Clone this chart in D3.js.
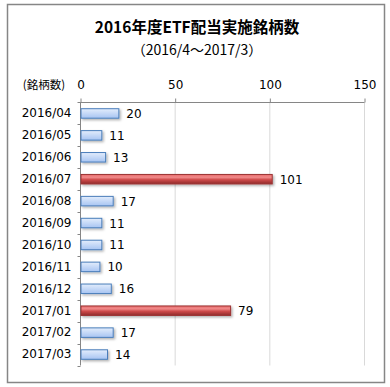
<!DOCTYPE html>
<html>
<head>
<meta charset="utf-8">
<script src="https://cdn.jsdelivr.net/npm/d3@7"></script>
<style>
  body { margin: 0; background: #fff; }
  svg { display: block; }
</style>
</head>
<body>
<div id="chart"></div>
<script>
// data
const months = ["2016/04", "2016/05", "2016/06", "2016/07", "2016/08", "2016/09",
  "2016/10", "2016/11", "2016/12", "2017/01", "2017/02", "2017/03"];
const counts = [20, 11, 13, 101, 17, 11, 11, 10, 16, 79, 17, 14];
const highlight = ["2016/07", "2017/01"];
const xTicks = [0, 50, 100, 150];

const chartW = 390, chartH = 387;
const plotLeft = 80.5, plotRight = 364.5, plotTop = 102.5, plotBottom = 365.5;
const fontJP = "'Noto Sans CJK JP', sans-serif";
const fontNum = "Verdana, 'DejaVu Sans', sans-serif";

const svg = d3.select("#chart").append("svg")
  .attr("width", chartW)
  .attr("height", chartH);

const defs = svg.append("defs");

let blueGrad = defs.append("linearGradient").attr("id", "blueGrad")
  .attr("x1", 0).attr("y1", 0).attr("x2", 0).attr("y2", 1);
blueGrad.append("stop").attr("offset", "0%").attr("stop-color", "#e3edfc");
blueGrad.append("stop").attr("offset", "100%").attr("stop-color", "#a7c4f2");

let redGrad = defs.append("linearGradient").attr("id", "redGrad")
  .attr("x1", 0).attr("y1", 0).attr("x2", 0).attr("y2", 1);
redGrad.append("stop").attr("offset", "0%").attr("stop-color", "#e86a6a");
redGrad.append("stop").attr("offset", "30%").attr("stop-color", "#f08a8a");
redGrad.append("stop").attr("offset", "55%").attr("stop-color", "#cf4a4a");
redGrad.append("stop").attr("offset", "100%").attr("stop-color", "#8f2a2a");

let shadow = defs.append("filter").attr("id", "shadow")
  .attr("x", "-10%").attr("y", "-40%").attr("width", "130%").attr("height", "200%");
shadow.append("feDropShadow")
  .attr("dx", 1.5).attr("dy", 1.5).attr("stdDeviation", 1.2)
  .attr("flood-color", "#000").attr("flood-opacity", 0.3);

// outer frame
svg.append("rect")
  .attr("x", 7.5).attr("y", 4.5)
  .attr("width", 377).attr("height", 378)
  .attr("fill", "#fff")
  .attr("stroke", "#868686")
  .attr("stroke-width", 1.5);

svg.append("text")
  .attr("x", 197).attr("y", 33)
  .attr("text-anchor", "middle")
  .style("font-family", fontJP)
  .style("font-weight", "bold")
  .style("font-size", "15.5px")
  .text("2016年度ETF配当実施銘柄数");

svg.append("text")
  .attr("x", 197).attr("y", 55)
  .attr("text-anchor", "middle")
  .style("font-family", fontJP)
  .style("font-size", "14px")
  .text("（2016/4～2017/3）");

const x = d3.scaleLinear().domain([0, 150]).range([plotLeft, plotRight]);
const y = d3.scaleBand().domain(months).range([plotTop, plotBottom]);

// gridlines
svg.selectAll("line.grid")
  .data(xTicks.slice(1))
  .enter().append("line")
  .attr("class", "grid")
  .attr("x1", d => x(d)).attr("x2", d => x(d))
  .attr("y1", plotTop).attr("y2", plotBottom)
  .attr("stroke", "#d9d9d9")
  .attr("stroke-width", 1);

// top axis
const xAxis = d3.axisTop(x).tickValues(xTicks).tickSize(4).tickPadding(9.5);
const gx = svg.append("g")
  .attr("transform", "translate(0," + plotTop + ")")
  .call(xAxis);
gx.select(".domain").attr("d", "M" + (plotLeft - 3) + ",0H" + plotRight);
gx.selectAll("path, line").attr("stroke", "#868686");
gx.selectAll("text")
  .style("font-family", fontNum)
  .style("font-size", "12px")
  .attr("fill", "#000");

svg.append("text")
  .attr("x", 44).attr("y", 88.5)
  .attr("text-anchor", "middle")
  .style("font-family", fontJP)
  .style("font-size", "11.5px")
  .text("(銘柄数)");

// left axis
const yAxis = d3.axisLeft(y).tickSize(0).tickPadding(9);
const gy = svg.append("g")
  .attr("transform", "translate(" + plotLeft + ",0)")
  .call(yAxis);
gy.select(".domain").remove();
gy.selectAll("text")
  .style("font-family", fontNum)
  .style("font-size", "12px")
  .attr("fill", "#000");

svg.append("line")
  .attr("x1", plotLeft).attr("x2", plotLeft)
  .attr("y1", plotTop).attr("y2", plotBottom)
  .attr("stroke", "#868686");

const bounds = months.slice(1).map(m => y(m)).concat([plotBottom]);
svg.selectAll("line.ytick")
  .data(bounds)
  .enter().append("line")
  .attr("class", "ytick")
  .attr("x1", plotLeft - 3).attr("x2", plotLeft)
  .attr("y1", d => Math.round(d) + 0.5).attr("y2", d => Math.round(d) + 0.5)
  .attr("stroke", "#868686");

// bars
const barH = 9.5;
svg.selectAll("rect.bar")
  .data(months)
  .enter().append("rect")
  .attr("class", "bar")
  .attr("x", plotLeft + 0.5)
  .attr("y", (d) => y(d) + y.bandwidth() / 2 - barH / 2)
  .attr("width", (d, i) => x(counts[i]) - plotLeft)
  .attr("height", barH)
  .attr("fill", d => highlight.includes(d) ? "url(#redGrad)" : "url(#blueGrad)")
  .attr("stroke", d => highlight.includes(d) ? "#9c3434" : "#4a7ebb")
  .attr("stroke-width", 1)
  .attr("filter", "url(#shadow)");

// value labels
svg.selectAll("text.val")
  .data(months)
  .enter().append("text")
  .attr("class", "val")
  .attr("x", (d, i) => x(counts[i]) + 8)
  .attr("y", d => y(d) + y.bandwidth() / 2 + 4.5)
  .style("font-family", fontNum)
  .style("font-size", "12px")
  .text((d, i) => counts[i]);
</script>
</body>
</html>
